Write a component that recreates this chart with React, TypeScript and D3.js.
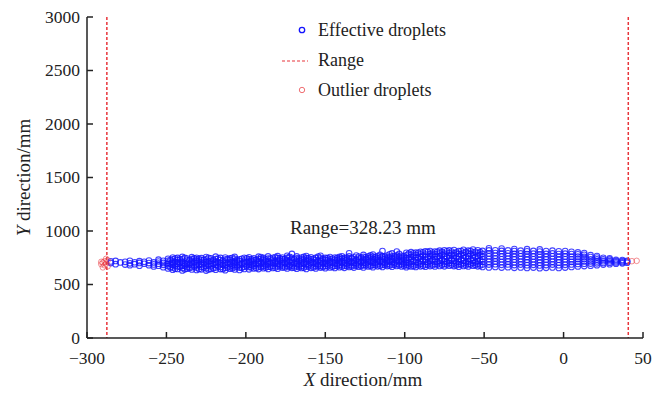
import React from 'react';
import * as d3 from 'd3';

// effective droplets, grouped as [x, y values at that x] (mm)
const sparseZone: [number, number[]][] = [
  [-285, [700, 716]],
  [-282, [690, 720]],
  [-279, [706]],
  [-276, [686, 712]],
  [-273, [698, 722, 680]],
  [-270, [690, 708]],
  [-267, [702, 676, 718]],
  [-264, [694, 712]],
  [-261, [680, 700, 724]],
  [-258, [688, 706, 668]],
  [-255, [695, 715, 676, 732]],
  [-252, [684, 702, 722, 662]],
];

const denseZone: [number, number[]][] = [
  [-249, [650, 672, 690, 705, 722, 740]],
  [-246, [638, 660, 684, 700, 716, 735, 752]],
  [-243, [645, 668, 692, 710, 728, 748]],
  [-240, [632, 655, 676, 698, 714, 736, 758]],
  [-237, [648, 664, 686, 704, 724, 742]],
  [-234, [640, 662, 680, 702, 720, 738, 755]],
  [-231, [636, 658, 678, 696, 718, 732, 750]],
  [-228, [642, 666, 688, 708, 726, 746]],
  [-225, [630, 652, 674, 694, 712, 734, 756]],
  [-222, [646, 670, 690, 706, 722, 744]],
  [-219, [638, 660, 682, 700, 716, 738, 760]],
  [-216, [644, 664, 686, 704, 728, 748]],
  [-213, [634, 656, 678, 698, 714, 732, 752]],
  [-210, [648, 668, 690, 710, 730, 745]],
  [-207, [640, 662, 684, 702, 720, 740, 758]],
  [-204, [636, 658, 680, 696, 718, 736]],
  [-201, [646, 666, 688, 706, 724, 750]],
  [-198, [642, 664, 684, 700, 716, 734, 754]],
  [-195, [650, 672, 692, 708, 726, 744]],
  [-192, [644, 668, 686, 704, 720, 740, 760]],
  [-189, [652, 674, 694, 712, 730, 748]],
  [-186, [646, 666, 688, 706, 722, 742, 762]],
  [-183, [655, 676, 696, 714, 732, 750]],
  [-180, [648, 670, 690, 708, 726, 746, 765]],
  [-177, [658, 678, 698, 716, 734, 752]],
  [-174, [650, 672, 692, 710, 728, 748, 768]],
  [-171, [656, 676, 696, 712, 730, 750, 786]],
  [-168, [648, 670, 690, 706, 724, 744, 762]],
  [-165, [654, 674, 694, 714, 732, 752]],
  [-162, [646, 668, 688, 708, 726, 746, 766]],
  [-159, [656, 678, 698, 716, 734, 754]],
  [-156, [650, 672, 692, 710, 728, 748]],
  [-153, [658, 676, 696, 714, 732, 750, 768]],
  [-150, [652, 674, 694, 712, 730, 748]],
  [-147, [660, 680, 700, 718, 736, 756]],
  [-144, [654, 676, 696, 714, 732, 752]],
  [-141, [662, 682, 702, 720, 738, 758]],
  [-138, [656, 678, 698, 716, 734, 750]],
  [-135, [664, 684, 704, 722, 740, 762, 792]],
  [-132, [658, 680, 700, 718, 736, 754]],
  [-129, [666, 686, 706, 724, 742, 760]],
  [-126, [660, 682, 702, 720, 738, 758, 776]],
  [-123, [668, 688, 708, 726, 744, 762]],
  [-120, [662, 684, 704, 722, 740, 760, 780]],
  [-117, [670, 690, 710, 728, 746, 766]],
  [-114, [664, 686, 706, 724, 742, 762, 812]],
  [-111, [672, 692, 712, 730, 748, 770]],
  [-108, [666, 688, 708, 726, 744, 764, 790]],
  [-105, [674, 694, 714, 732, 750, 772, 808]],
  [-102, [668, 690, 710, 728, 748, 768]],
];

// in-between droplets filling the dense band
const denseFill: [number, number[]][] = [
  [-247.5, [662, 694, 728]],
  [-244.5, [648, 676, 712, 742]],
  [-241.5, [666, 702, 734]],
  [-238.5, [642, 676, 694, 748]],
  [-235.5, [654, 690, 728]],
  [-232.5, [668, 708, 744]],
  [-229.5, [646, 684, 714, 740]],
  [-226.5, [660, 698, 730]],
  [-223.5, [640, 680, 716, 750]],
  [-220.5, [652, 692, 728]],
  [-217.5, [670, 710, 742]],
  [-214.5, [646, 686, 722]],
  [-211.5, [660, 700, 738]],
  [-208.5, [652, 676, 714, 750]],
  [-205.5, [668, 706, 728]],
  [-202.5, [656, 694, 740]],
  [-199.5, [674, 710, 744]],
  [-196.5, [660, 682, 718, 736]],
  [-193.5, [654, 696, 730]],
  [-190.5, [664, 702, 740, 756]],
  [-187.5, [658, 680, 716, 736]],
  [-184.5, [666, 704, 742]],
  [-181.5, [660, 698, 718, 756]],
  [-178.5, [668, 688, 724, 744]],
  [-175.5, [662, 702, 738]],
  [-172.5, [666, 682, 720, 758]],
  [-169.5, [660, 700, 736]],
  [-166.5, [664, 684, 722, 742]],
  [-163.5, [658, 698, 736, 758]],
  [-160.5, [668, 688, 724, 744]],
  [-157.5, [662, 704, 740]],
  [-154.5, [668, 686, 722, 760]],
  [-151.5, [664, 702, 738]],
  [-148.5, [670, 690, 726, 746]],
  [-145.5, [666, 706, 742]],
  [-142.5, [672, 692, 728, 748]],
  [-139.5, [668, 708, 744, 764]],
  [-136.5, [674, 694, 730, 752]],
  [-133.5, [670, 710, 746]],
  [-130.5, [676, 696, 732, 770]],
  [-127.5, [672, 712, 750]],
  [-124.5, [678, 698, 734, 754]],
  [-121.5, [674, 714, 752, 772]],
  [-118.5, [680, 700, 736, 756]],
  [-115.5, [676, 716, 754, 778]],
  [-112.5, [682, 702, 738, 760]],
  [-109.5, [678, 718, 756, 782]],
  [-106.5, [684, 704, 740, 762]],
  [-103.5, [680, 720, 758, 786]],
  [-100.5, [676, 696, 738, 762]],
];

const peakZone: [number, number[]][] = [
  [-99, [662, 684, 706, 728, 750, 772, 796]],
  [-96, [668, 690, 712, 734, 756, 778, 802]],
  [-93, [664, 686, 708, 730, 752, 776, 798]],
  [-90, [670, 694, 716, 738, 760, 782, 806]],
  [-87, [666, 688, 712, 734, 756, 780, 810]],
  [-84, [672, 696, 718, 740, 762, 786, 812]],
  [-81, [668, 692, 714, 736, 760, 784, 808]],
  [-78, [674, 698, 720, 744, 766, 790, 816]],
  [-75, [670, 694, 716, 740, 764, 788, 820]],
  [-72, [676, 700, 722, 746, 770, 794, 818]],
  [-69, [672, 696, 720, 744, 768, 792, 822]],
  [-66, [666, 690, 714, 738, 762, 786, 812]],
  [-63, [674, 698, 722, 746, 770, 796, 824]],
  [-60, [668, 692, 716, 740, 764, 790, 816]],
  [-57, [676, 700, 724, 748, 772, 798, 826]],
  [-54, [670, 694, 718, 742, 766, 792, 820]],
  [-51, [664, 688, 712, 736, 760, 786, 814]],
];

const peakFill: [number, number[]][] = [
  [-97.5, [676, 700, 744, 788]],
  [-94.5, [672, 722, 764, 792]],
  [-91.5, [680, 704, 748, 796]],
  [-88.5, [676, 726, 770, 800]],
  [-85.5, [684, 708, 752, 804]],
  [-82.5, [680, 730, 774, 798]],
  [-79.5, [686, 710, 756, 806]],
  [-76.5, [682, 732, 778, 804]],
  [-73.5, [688, 712, 758, 810]],
  [-70.5, [684, 734, 780, 808]],
  [-67.5, [680, 706, 752, 800]],
  [-64.5, [686, 732, 782, 812]],
  [-61.5, [680, 706, 756, 804]],
  [-58.5, [688, 734, 784, 812]],
  [-55.5, [682, 708, 756, 806]],
  [-52.5, [678, 726, 774, 802]],
];

const stripeZone: [number, number[]][] = [
  [-47, [660, 686, 712, 738, 764, 790, 818, 838]],
  [-43, [664, 690, 716, 742, 768, 794, 820]],
  [-39, [658, 684, 710, 736, 762, 788, 814, 836]],
  [-35, [662, 688, 714, 740, 766, 792, 818]],
  [-31, [656, 682, 708, 734, 760, 786, 812, 832]],
  [-27, [660, 686, 712, 738, 764, 790, 816]],
  [-23, [654, 680, 706, 732, 758, 784, 810, 830]],
  [-19, [658, 684, 710, 736, 762, 788, 814]],
  [-15, [652, 678, 704, 730, 756, 782, 808, 828]],
  [-11, [656, 682, 708, 734, 760, 786, 812]],
  [-7, [660, 686, 712, 738, 764, 790, 816]],
  [-3, [654, 680, 706, 732, 758, 784, 810]],
  [1, [658, 684, 710, 736, 762, 788, 812]],
  [5, [664, 688, 712, 736, 760, 784, 806]],
  [9, [668, 692, 714, 738, 760, 782, 800]],
  [13, [672, 694, 716, 738, 758, 778, 794]],
  [17, [676, 696, 716, 736, 756, 774]],
  [21, [680, 698, 716, 734, 752, 766]],
  [25, [686, 702, 718, 734, 750]],
  [29, [690, 704, 718, 732, 744]],
  [33, [694, 706, 718, 730]],
  [37, [698, 708, 718, 728]],
  [40, [704, 714, 722]],
];

// outlier droplets [x, y]
const outliers: [number, number][] = [
  [-291, 690], [-290, 705], [-289, 680], [-289, 716], [-288, 695],
  [-287, 670], [-287, 726], [-290, 660], [-288, 740], [-291, 712],
  [43, 718], [46, 721],
];

const rangeBounds = [-287.5, 40.73];
const xTicks = [-300, -250, -200, -150, -100, -50, 0, 50];
const yTicks = [0, 500, 1000, 1500, 2000, 2500, 3000];

const FONT = '"Liberation Serif", "DejaVu Serif", "Times New Roman", serif';
const BLUE = '#1414ff';
const RED = '#e8353b';
const INK = '#222';

const App: React.FC = () => {
  const x = d3.scaleLinear().domain([-300, 50]).range([87, 643]);
  const y = d3.scaleLinear().domain([0, 3000]).range([338, 17]);

  const effective = [...sparseZone, ...denseZone, ...denseFill, ...peakZone, ...peakFill, ...stripeZone]
    .flatMap(([xv, ys]) => ys.map(yv => [xv, yv] as [number, number]));

  const tickStyle = { fontFamily: FONT, fontSize: 17.5, fill: INK };
  const labelStyle = { fontFamily: FONT, fontSize: 19, fill: INK };
  const legendStyle = { fontFamily: FONT, fontSize: 18, fill: INK };

  return (
    <svg
      width={665}
      height={394}
      style={{ position: 'absolute', left: 0, top: 0, background: '#fff' }}
    >
      {/* droplets */}
      {effective.map(([xv, yv], i) => (
        <circle
          key={`e-${i}`}
          cx={x(xv)}
          cy={y(yv)}
          r={2.8}
          fill="none"
          stroke={BLUE}
          strokeWidth={1.1}
          strokeOpacity={0.8}
        />
      ))}
      {outliers.map(([xv, yv], i) => (
        <circle
          key={`o-${i}`}
          cx={x(xv)}
          cy={y(yv)}
          r={2.8}
          fill="none"
          stroke={RED}
          strokeWidth={0.9}
          strokeOpacity={0.6}
        />
      ))}

      {/* range lines */}
      {rangeBounds.map(b => (
        <line
          key={`r-${b}`}
          x1={x(b)}
          x2={x(b)}
          y1={y(3000)}
          y2={y(0)}
          stroke={RED}
          strokeWidth={1.5}
          strokeDasharray="3,2"
        />
      ))}

      {/* axes */}
      <line x1={x(-300)} x2={x(50)} y1={y(0)} y2={y(0)} stroke={INK} strokeWidth={1.5} />
      <line x1={x(-300)} x2={x(-300)} y1={y(0)} y2={y(3000)} stroke={INK} strokeWidth={1.5} />
      {xTicks.map(t => (
        <g key={`xt-${t}`} transform={`translate(${x(t)}, ${y(0)})`}>
          <line y2={-6} stroke={INK} strokeWidth={1.5} />
          <text y={26} textAnchor="middle" style={tickStyle}>
            {t < 0 ? `\u2212${Math.abs(t)}` : t}
          </text>
        </g>
      ))}
      {yTicks.map(t => (
        <g key={`yt-${t}`} transform={`translate(${x(-300)}, ${y(t)})`}>
          <line x2={6} stroke={INK} strokeWidth={1.5} />
          <text x={-7} dy="0.32em" textAnchor="end" style={tickStyle}>
            {t}
          </text>
        </g>
      ))}

      {/* axis titles */}
      <text x={363} y={386} textAnchor="middle" style={labelStyle}>
        <tspan fontStyle="italic">X</tspan> direction/mm
      </text>
      <text
        transform={`translate(30, ${(y(0) + y(3000)) / 2}) rotate(-90)`}
        textAnchor="middle"
        style={labelStyle}
      >
        <tspan fontStyle="italic">Y</tspan> direction/mm
      </text>

      {/* annotation */}
      <text x={290} y={234} style={labelStyle}>Range=328.23 mm</text>

      {/* legend */}
      <g>
        <circle cx={302} cy={30} r={2.7} fill="none" stroke={BLUE} strokeWidth={1.3} />
        <text x={318} y={36} style={legendStyle}>Effective droplets</text>
        <line x1={282} x2={308} y1={61} y2={61} stroke={RED} strokeWidth={1.2} strokeDasharray="3,2" />
        <text x={318} y={66} style={legendStyle}>Range</text>
        <circle cx={302} cy={90} r={2.7} fill="none" stroke={RED} strokeWidth={1} strokeOpacity={0.7} />
        <text x={318} y={96} style={legendStyle}>Outlier droplets</text>
      </g>
    </svg>
  );
};

export default App;
